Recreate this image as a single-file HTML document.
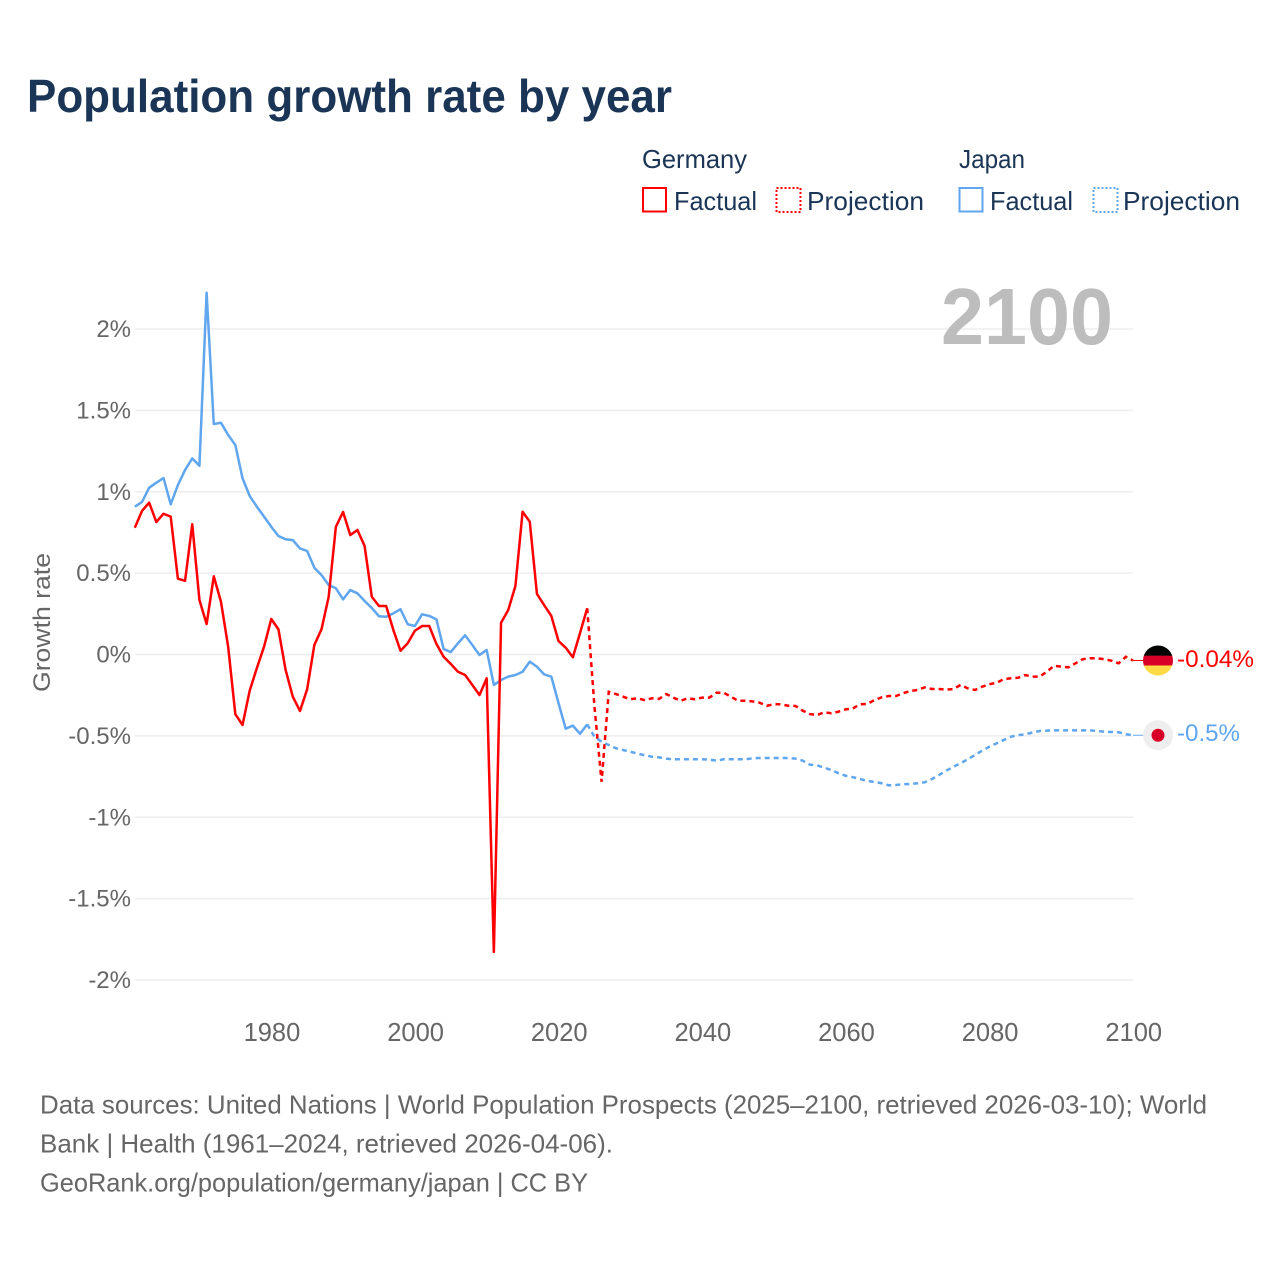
<!DOCTYPE html>
<html lang="en">
<head>
<meta charset="utf-8">
<title>Population growth rate by year</title>
<style>
html,body{margin:0;padding:0;background:#fff;}
svg{display:block;font-family:"Liberation Sans",sans-serif;}
</style>
</head>
<body>
<svg id="chart" xmlns="http://www.w3.org/2000/svg" width="1280" height="1280" viewBox="0 0 1280 1280">
  <rect x="0" y="0" width="1280" height="1280" fill="#ffffff"/>
  <text x="27" y="112" font-size="46" font-weight="700" fill="#1a3556" textLength="645" lengthAdjust="spacingAndGlyphs">Population growth rate by year</text>

  <g font-size="26" fill="#1a3556">
    <text x="642" y="168" textLength="105" lengthAdjust="spacingAndGlyphs">Germany</text>
    <text x="959" y="168" textLength="66" lengthAdjust="spacingAndGlyphs">Japan</text>
    <rect x="643" y="188" width="23" height="23.5" fill="none" stroke="#ff0000" stroke-width="2"/>
    <text x="674" y="210" textLength="83" lengthAdjust="spacingAndGlyphs">Factual</text>
    <rect x="776.5" y="188" width="24" height="24" fill="none" stroke="#ff0000" stroke-width="2" stroke-dasharray="2 2"/>
    <text x="807" y="210" textLength="117" lengthAdjust="spacingAndGlyphs">Projection</text>
    <rect x="959.5" y="188" width="23" height="23.5" fill="none" stroke="#5fa6ee" stroke-width="2"/>
    <text x="990" y="210" textLength="83" lengthAdjust="spacingAndGlyphs">Factual</text>
    <rect x="1093.5" y="188" width="24" height="24" fill="none" stroke="#5fa6ee" stroke-width="2" stroke-dasharray="2 2"/>
    <text x="1123" y="210" textLength="117" lengthAdjust="spacingAndGlyphs">Projection</text>
  </g>

  <g id="grid"></g>
  <text x="941" y="344" font-size="80" font-weight="700" fill="#bdbdbd" textLength="172" lengthAdjust="spacingAndGlyphs">2100</text>
  <text transform="translate(50,622.5) rotate(-90)" text-anchor="middle" font-size="24" fill="#666666" textLength="139" lengthAdjust="spacingAndGlyphs">Growth rate</text>
  <g id="yticks"></g>
  <g id="xticks"></g>
  <g id="series"></g>
  <g id="markers"></g>

  <g font-size="26" fill="#666666">
    <text x="40" y="1113.5" textLength="1167" lengthAdjust="spacingAndGlyphs">Data sources: United Nations | World Population Prospects (2025–2100, retrieved 2026-03-10); World</text>
    <text x="40" y="1152.5" textLength="573" lengthAdjust="spacingAndGlyphs">Bank | Health (1961–2024, retrieved 2026-04-06).</text>
    <text x="40" y="1191.5" textLength="548" lengthAdjust="spacingAndGlyphs">GeoRank.org/population/germany/japan | CC BY</text>
  </g>
</svg>
<script>
const factualStartYear = 1961;
const projectionStartYear = 2025;
const yTickValues = [2, 1.5, 1, 0.5, 0, -0.5, -1, -1.5, -2];
const yTickLabels = ["2%", "1.5%", "1%", "0.5%", "0%", "-0.5%", "-1%", "-1.5%", "-2%"];
const xTickYears = [1980, 2000, 2020, 2040, 2060, 2080, 2100];
const germanyFactual = [
  0.779,0.882,0.933,0.814,0.865,0.847,0.466,0.453,0.800,0.335,
  0.187,0.480,0.324,0.048,-0.367,-0.433,-0.222,-0.083,0.048,0.218,
  0.155,-0.095,-0.259,-0.347,-0.214,0.058,0.155,0.355,0.785,0.876,
  0.734,0.765,0.667,0.355,0.298,0.298,0.151,0.023,0.069,0.146,
  0.175,0.175,0.065,-0.014,-0.058,-0.106,-0.126,-0.187,-0.249,-0.146,
  -1.828,0.195,0.273,0.421,0.877,0.816,0.372,0.304,0.237,0.083,
  0.042,-0.017,0.132,0.284
];
const japanFactual = [
  0.908,0.937,1.025,1.056,1.084,0.923,1.041,1.134,1.205,1.160,
  2.223,1.416,1.424,1.349,1.287,1.083,0.974,0.908,0.847,0.785,
  0.728,0.708,0.703,0.652,0.636,0.533,0.488,0.427,0.407,0.339,
  0.396,0.376,0.329,0.286,0.235,0.232,0.253,0.278,0.186,0.175,
  0.247,0.237,0.216,0.034,0.015,0.069,0.118,0.058,-0.003,0.028,
  -0.187,-0.157,-0.136,-0.126,-0.106,-0.044,-0.075,-0.122,-0.136,-0.298,
  -0.456,-0.437,-0.487,-0.429
];
const germanyProjection = [
  -0.316,-0.782,-0.229,-0.243,-0.259,-0.275,-0.269,-0.280,-0.269,-0.273,
  -0.243,-0.265,-0.284,-0.269,-0.275,-0.265,-0.265,-0.235,-0.235,-0.259,
  -0.284,-0.284,-0.288,-0.296,-0.315,-0.306,-0.306,-0.315,-0.316,-0.345,
  -0.366,-0.372,-0.355,-0.361,-0.351,-0.337,-0.331,-0.306,-0.304,-0.280,
  -0.263,-0.255,-0.255,-0.238,-0.224,-0.218,-0.202,-0.212,-0.212,-0.216,
  -0.212,-0.187,-0.208,-0.218,-0.198,-0.183,-0.173,-0.152,-0.146,-0.143,
  -0.126,-0.136,-0.136,-0.106,-0.069,-0.075,-0.079,-0.054,-0.029,-0.023,
  -0.023,-0.029,-0.038,-0.054,-0.014,-0.037
];
const japanProjection = [
  -0.505,-0.536,-0.556,-0.576,-0.587,-0.597,-0.609,-0.619,-0.628,-0.632,
  -0.640,-0.644,-0.644,-0.644,-0.644,-0.644,-0.646,-0.652,-0.644,-0.644,
  -0.644,-0.644,-0.638,-0.636,-0.636,-0.636,-0.636,-0.636,-0.640,-0.652,
  -0.677,-0.681,-0.695,-0.710,-0.730,-0.745,-0.754,-0.765,-0.777,-0.783,
  -0.791,-0.804,-0.802,-0.797,-0.796,-0.791,-0.785,-0.765,-0.740,-0.714,
  -0.689,-0.668,-0.644,-0.617,-0.591,-0.566,-0.546,-0.525,-0.505,-0.496,
  -0.490,-0.480,-0.470,-0.468,-0.466,-0.466,-0.466,-0.466,-0.466,-0.466,
  -0.470,-0.474,-0.476,-0.478,-0.490,-0.496
];
const germanyEndLabel = "-0.04%";
const japanEndLabel = "-0.5%";

const SVG_NS = "http://www.w3.org/2000/svg";
const RED = "#ff0000";
const BLUE = "#5fa6ee";
const xOf = function (year) { return 134.8 + (year - 1961) * (1133 - 134.8) / 139; };
const yOf = function (value) { return 654.5 - value * 162.75; };
const make = function (tag, parent) {
  const el = document.createElementNS(SVG_NS, tag);
  parent.appendChild(el);
  return el;
};

const gridGroup = document.getElementById("grid");
const yTickGroup = document.getElementById("yticks");
yTickValues.forEach(function (v, i) {
  const line = make("line", gridGroup);
  
  
  line.setAttribute("x1", xOf(1961));
  line.setAttribute("x2", xOf(2100));
  line.setAttribute("y1", yOf(v));
  line.setAttribute("y2", yOf(v));
  line.setAttribute("stroke", "#eeeeee");
  line.setAttribute("stroke-width", "1.6");
  const label = make("text", yTickGroup);
  
  
  label.setAttribute("x", 131);
  label.setAttribute("y", yOf(v) + 8);
  label.setAttribute("text-anchor", "end");
  label.setAttribute("font-size", "24");
  label.setAttribute("fill", "#666666");
  label.textContent = yTickLabels[i];
});

const xTickGroup = document.getElementById("xticks");
xTickYears.forEach(function (year) {
  const label = make("text", xTickGroup);
  
  
  label.setAttribute("x", xOf(year) + 0.7);
  label.setAttribute("y", 1041);
  label.setAttribute("text-anchor", "middle");
  label.setAttribute("font-size", "25.5");
  label.setAttribute("fill", "#666666");
  label.textContent = String(year);
});

const pathFor = function (values, startYear) {
  return values.map(function (v, i) {
    return (i ? "L" : "M") + xOf(startYear + i).toFixed(2) + " " + yOf(v).toFixed(2);
  }).join(" ");
};
const seriesGroup = document.getElementById("series");

const germanyProjectionLine = make("path", seriesGroup);


germanyProjectionLine.setAttribute("d", pathFor([germanyFactual[germanyFactual.length - 1]].concat(germanyProjection), projectionStartYear - 1));
germanyProjectionLine.setAttribute("fill", "none");
germanyProjectionLine.setAttribute("stroke", RED);
germanyProjectionLine.setAttribute("stroke-width", "2.5");
germanyProjectionLine.setAttribute("stroke-dasharray", "5 4");

const japanProjectionLine = make("path", seriesGroup);


japanProjectionLine.setAttribute("d", pathFor([japanFactual[japanFactual.length - 1]].concat(japanProjection), projectionStartYear - 1));
japanProjectionLine.setAttribute("fill", "none");
japanProjectionLine.setAttribute("stroke", BLUE);
japanProjectionLine.setAttribute("stroke-width", "2.5");
japanProjectionLine.setAttribute("stroke-dasharray", "5 4");

const japanFactualLine = make("path", seriesGroup);


japanFactualLine.setAttribute("d", pathFor(japanFactual, factualStartYear));
japanFactualLine.setAttribute("fill", "none");
japanFactualLine.setAttribute("stroke", BLUE);
japanFactualLine.setAttribute("stroke-width", "2.5");
japanFactualLine.setAttribute("stroke-linejoin", "round");

const germanyFactualLine = make("path", seriesGroup);


germanyFactualLine.setAttribute("d", pathFor(germanyFactual, factualStartYear));
germanyFactualLine.setAttribute("fill", "none");
germanyFactualLine.setAttribute("stroke", RED);
germanyFactualLine.setAttribute("stroke-width", "2.5");
germanyFactualLine.setAttribute("stroke-linejoin", "round");

const markerGroup = document.getElementById("markers");
const germanyEndY = yOf(germanyProjection[germanyProjection.length - 1]);
const japanEndY = yOf(japanProjection[japanProjection.length - 1]);

const germanyConnector = make("line", markerGroup);


germanyConnector.setAttribute("x1", 1133);
germanyConnector.setAttribute("x2", 1145);
germanyConnector.setAttribute("y1", germanyEndY);
germanyConnector.setAttribute("y2", germanyEndY);
germanyConnector.setAttribute("stroke", RED);
germanyConnector.setAttribute("stroke-width", "1");

const japanConnector = make("line", markerGroup);


japanConnector.setAttribute("x1", 1133);
japanConnector.setAttribute("x2", 1145);
japanConnector.setAttribute("y1", japanEndY);
japanConnector.setAttribute("y2", japanEndY);
japanConnector.setAttribute("stroke", BLUE);
japanConnector.setAttribute("stroke-width", "1");

const clip = make("clipPath", markerGroup);
clip.setAttribute("id", "germany-flag-clip");
const clipCircle = make("circle", clip);
clipCircle.setAttribute("cx", 1158);
clipCircle.setAttribute("cy", germanyEndY);
clipCircle.setAttribute("r", 15);

const germanyFlag = make("g", markerGroup);


germanyFlag.setAttribute("clip-path", "url(#germany-flag-clip)");
[["#000000", -15, 10.4], ["#d80027", -4.8, 9.8], ["#ffda44", 5, 10]].forEach(function (band) {
  const stripe = make("rect", germanyFlag);
  
  
  stripe.setAttribute("x", 1143);
  stripe.setAttribute("y", germanyEndY + band[1]);
  stripe.setAttribute("width", 30);
  stripe.setAttribute("height", band[2]);
  stripe.setAttribute("fill", band[0]);
});

const japanDisc = make("circle", markerGroup);


japanDisc.setAttribute("cx", 1158);
japanDisc.setAttribute("cy", japanEndY);
japanDisc.setAttribute("r", 15);
japanDisc.setAttribute("fill", "#eeeeee");

const japanDot = make("circle", markerGroup);


japanDot.setAttribute("cx", 1158);
japanDot.setAttribute("cy", japanEndY);
japanDot.setAttribute("r", 6.5);
japanDot.setAttribute("fill", "#d80027");

const germanyLabel = make("text", markerGroup);


germanyLabel.setAttribute("x", 1177);
germanyLabel.setAttribute("y", germanyEndY + 6.5);
germanyLabel.setAttribute("font-size", "24");
germanyLabel.setAttribute("fill", RED);
germanyLabel.setAttribute("textLength", "77");
germanyLabel.setAttribute("lengthAdjust", "spacingAndGlyphs");
germanyLabel.textContent = germanyEndLabel;

const japanLabel = make("text", markerGroup);


japanLabel.setAttribute("x", 1177);
japanLabel.setAttribute("y", japanEndY + 6);
japanLabel.setAttribute("font-size", "24");
japanLabel.setAttribute("fill", BLUE);
japanLabel.setAttribute("textLength", "63");
japanLabel.setAttribute("lengthAdjust", "spacingAndGlyphs");
japanLabel.textContent = japanEndLabel;
</script>
</body>
</html>
